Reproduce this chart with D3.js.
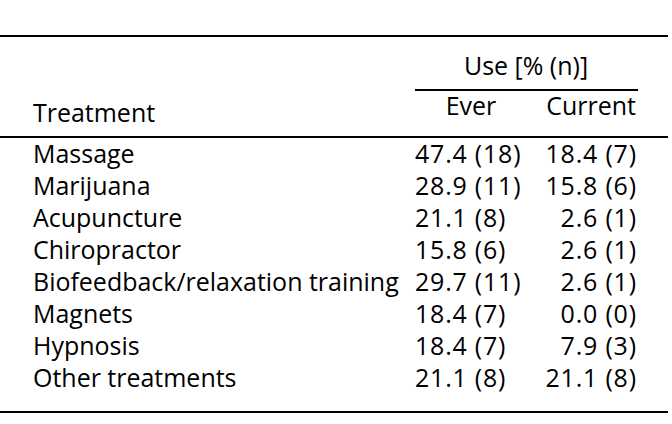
<!DOCTYPE html>
<html><head><meta charset="utf-8">
<script src="https://cdn.jsdelivr.net/npm/d3@7"></script>
<style>html,body{margin:0;padding:0;background:#fff;}svg{display:block;}</style>
</head><body>
<svg id="c" width="672" height="424"></svg>
<script>
const treatments = ["Massage","Marijuana","Acupuncture","Chiropractor","Biofeedback/relaxation training","Magnets","Hypnosis","Other treatments"];
const everPct = ["47.4","28.9","21.1","15.8","29.7","18.4","18.4","21.1"];
const everN = [18,11,8,6,11,7,7,8];
const currentPct = ["18.4","15.8","2.6","2.6","2.6","0.0","7.9","21.1"];
const currentN = [7,6,1,1,1,0,3,8];
const headers = {group:"Use [% (n)]", col0:"Treatment", col1:"Ever", col2:"Current"};

const svg = d3.select("#c");
const font = "'Open Sans', sans-serif";

// fit font size so the longest label spans the same width as in the reference
const probe = svg.append("text").attr("font-family", font).attr("font-size", 20).text(treatments[4]);
const w20 = probe.node().getComputedTextLength();
probe.remove();
const fs = 20 * 366 / w20;

const y = d3.scalePoint().domain(treatments).range([163, 387]);
const x = d3.scaleOrdinal().domain(["name","ever","current"]).range([33, 415, 636]);

function rule(x1, x2, yy, w) {
  svg.append("line").attr("x1", x1).attr("x2", x2).attr("y1", yy).attr("y2", yy)
     .attr("stroke", "#000").attr("stroke-width", w);
}
rule(0, 668, 36, 2.2);
rule(415, 638, 90, 2.2);
rule(0, 668, 137, 2.2);
rule(0, 668, 412, 2.2);

const t = (txt, xx, yy, anchor) => svg.append("text").attr("x", xx).attr("y", yy)
  .attr("text-anchor", anchor).attr("font-family", font).attr("font-size", fs)
  .attr("fill", "#000").text(txt);

t(headers.group, 526, 75, "middle");
t(headers.col0, x("name"), 122, "start");
t(headers.col1, 471, 115, "middle");
t(headers.col2, 636, 115, "end");

const rows = svg.append("g").selectAll("g").data(treatments).join("g")
  .attr("transform", d => `translate(0,${y(d)})`);
rows.append("text").attr("x", x("name")).attr("font-family", font).attr("font-size", fs).attr("fill", "#000").text(d => d);
rows.append("text").attr("x", x("ever")).attr("font-family", font).attr("font-size", fs).attr("fill", "#000")
  .attr("letter-spacing", 0.8)
  .text((d, i) => `${everPct[i]} (${everN[i]})`);
rows.append("text").attr("x", x("current") + 0.8).attr("text-anchor", "end").attr("font-family", font).attr("font-size", fs).attr("fill", "#000")
  .attr("letter-spacing", 0.8)
  .text((d, i) => `${currentPct[i]} (${currentN[i]})`);
</script>
</body></html>
